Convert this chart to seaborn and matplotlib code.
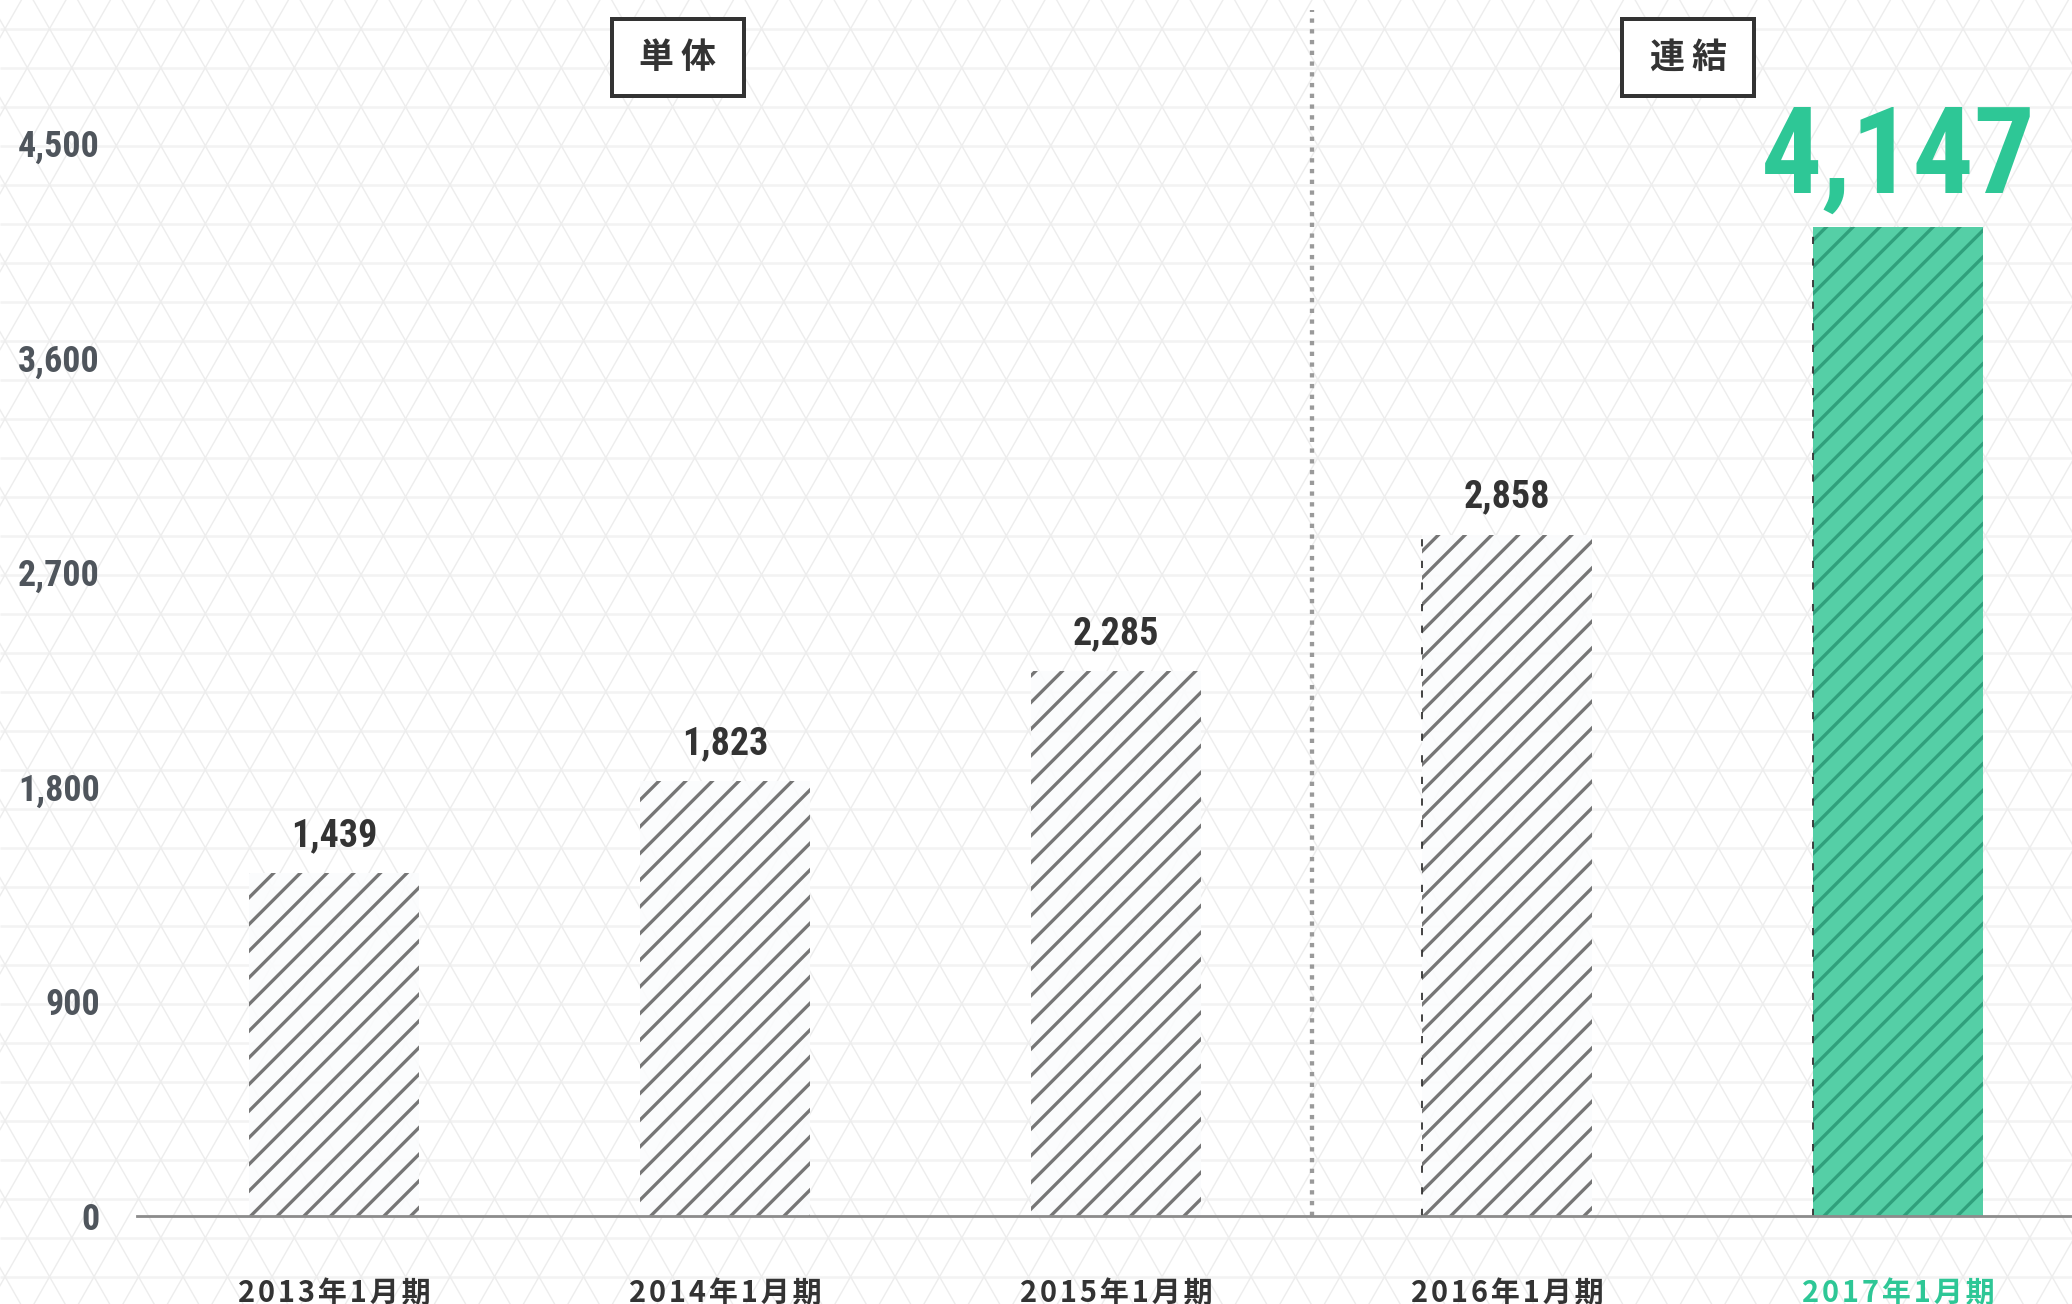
import numpy as np
import pandas as pd
import matplotlib
matplotlib.use("Agg")
import matplotlib.pyplot as plt
import matplotlib.transforms as mtransforms
from matplotlib.collections import LineCollection
from matplotlib.patches import Rectangle
import seaborn as sns

# ---- data -------------------------------------------------------------
periods = ["2013年1月期", "2014年1月期", "2015年1月期", "2016年1月期", "2017年1月期"]
sales = [1439, 1823, 2285, 2858, 4147]
y_ticks = [0, 900, 1800, 2700, 3600, 4500]
segment_names = ["単体", "連結"]
segment_centers = [0.879, 3.463]
segment_split = 2.5

# ---- style ------------------------------------------------------------
W, H, DPI = 2072, 1304, 80
PX = 72.0 / DPI  # points per pixel

sns.set_theme(style="white")
NUM_FONT = ["Roboto Condensed", "DejaVu Sans"]
JP_FONT = ["Noto Sans CJK JP", "DejaVu Sans"]
plt.rcParams["font.family"] = JP_FONT
plt.rcParams["hatch.linewidth"] = 3.3 * PX

GREEN_TEXT = "#2ec796"
GREEN_FILL = "#55cfa6"
GREEN_HATCH = "#30a07c"
GRAY_HATCH = "#767676"
GRAY_FILL = (0.985, 0.988, 0.992, 0.88)
DARK = "#333333"
TICK_COLOR = "#4f555c"

fig = plt.figure(figsize=(W / DPI, H / DPI), dpi=DPI, facecolor="white")

# ---- triangular lattice background (pixel coordinates) ------------------
side, row_h = 44.5, 39.0
ref_x, ref_y = 828.3, 145.7
slope = (side / 2) / row_h
rows = np.arange(ref_y - 5 * row_h, H + row_h, row_h)
hsegs = [[(0, H - y), (W, H - y)] for y in rows]
dsegs = []
ya, yb = -40.0, H + 40.0
for k in range(-40, 60):
    base = ref_x + side * k
    for s in (1, -1):
        xa = base + s * slope * (ya - ref_y)
        xb = base + s * slope * (yb - ref_y)
        dsegs.append([(xa, H - ya), (xb, H - yb)])
fig.add_artist(LineCollection(hsegs, colors="#f3f3f3", linewidths=2.6 * PX,
                              transform=mtransforms.IdentityTransform(), zorder=-2))
fig.add_artist(LineCollection(dsegs, colors="#ededed", linewidths=1.4 * PX,
                              transform=mtransforms.IdentityTransform(), zorder=-2))

# ---- axes -------------------------------------------------------------
ax_left, ax_bottom_img = 137, 1216
ax = fig.add_axes([ax_left / W, (H - ax_bottom_img) / H, 1 - ax_left / W, ax_bottom_img / H])
ax.set_facecolor("none")

df = pd.DataFrame({"period": periods, "sales": sales})
sns.barplot(data=df, x="period", y="sales", hue="period", legend=False,
            palette=["#ffffff"] * (len(periods) - 1) + [GREEN_FILL],
            width=0.435, linewidth=0, saturation=1, ax=ax, zorder=2)

n = len(ax.patches)
for i, p in enumerate(ax.patches):
    last = i == n - 1
    p.set_facecolor(GREEN_FILL if last else GRAY_FILL)
    p.set_edgecolor(GREEN_HATCH if last else GRAY_HATCH)
    p.set_hatch("/")
    p.set_linewidth(0)

# dashed left edges on the consolidated bars
for p in ax.patches[3:]:
    ax.vlines(p.get_x(), 0, p.get_height(), colors=DARK, linewidth=1.8 * PX,
              linestyles=(0, (4, 8)), zorder=3)

# value labels
for i, (p, v) in enumerate(zip(ax.patches, sales)):
    last = i == n - 1
    ax.annotate(f"{v:,}", (p.get_x() + p.get_width() / 2, v),
                xytext=(0, (34 if last else 27) * PX), textcoords="offset points",
                ha="center", va="baseline",
                fontsize=(121 if last else 38) * PX,
                fontweight="bold", fontstretch="condensed",
                color=GREEN_TEXT if last else DARK,
                family=NUM_FONT, zorder=4)

ax.set_xlim(-0.504, 4.445)
ax.set_ylim(0, 5100)

# segment divider
ax.axvline(segment_split, ymin=0, ymax=(ax_bottom_img - 10) / ax_bottom_img,
           color="#9a9a9a", linewidth=4.3 * PX, linestyle=(0, (1, 1.5)),
           dash_capstyle="butt", zorder=1)

# segment boxes
box_w, box_h, box_cy = 0.338, 0.0633, 0.953
xt = ax.get_xaxis_transform()
for name, cx in zip(segment_names, segment_centers):
    ax.add_patch(Rectangle((cx - box_w / 2, box_cy - box_h / 2), box_w, box_h,
                           transform=xt, facecolor="white", edgecolor=DARK,
                           linewidth=4 * PX, clip_on=False, zorder=5))
    ax.text(cx, box_cy, "\u2009".join(name), transform=xt, ha="center", va="center",
            fontsize=35 * PX, fontweight="bold", color=DARK, family=JP_FONT, zorder=6)

# ---- ticks and spines ---------------------------------------------------
for s in ("left", "right", "top"):
    ax.spines[s].set_visible(False)
ax.spines["bottom"].set_color("#8c8c8c")
ax.spines["bottom"].set_linewidth(2.8 * PX)
ax.spines["bottom"].set_zorder(3)

ax.set_yticks(y_ticks, [f"{t:,}" for t in y_ticks])
ax.tick_params(axis="y", length=0, pad=37 * PX, labelsize=36 * PX, labelcolor=TICK_COLOR)
for lbl in ax.get_yticklabels():
    lbl.set_family(NUM_FONT)
    lbl.set_fontweight("bold")
    lbl.set_fontstretch("condensed")

ax.set_xticks(range(len(periods)), ["\u200a".join(list(p)) for p in periods])
ax.tick_params(axis="x", length=0, pad=62 * PX, labelsize=29 * PX, labelcolor=DARK)
for i, lbl in enumerate(ax.get_xticklabels()):
    lbl.set_family(JP_FONT)
    lbl.set_fontweight("bold")
    if i == len(periods) - 1:
        lbl.set_color(GREEN_TEXT)

ax.set_xlabel("")
ax.set_ylabel("")
ax.grid(False)

fig.savefig("out.png", dpi=DPI, facecolor="white")
